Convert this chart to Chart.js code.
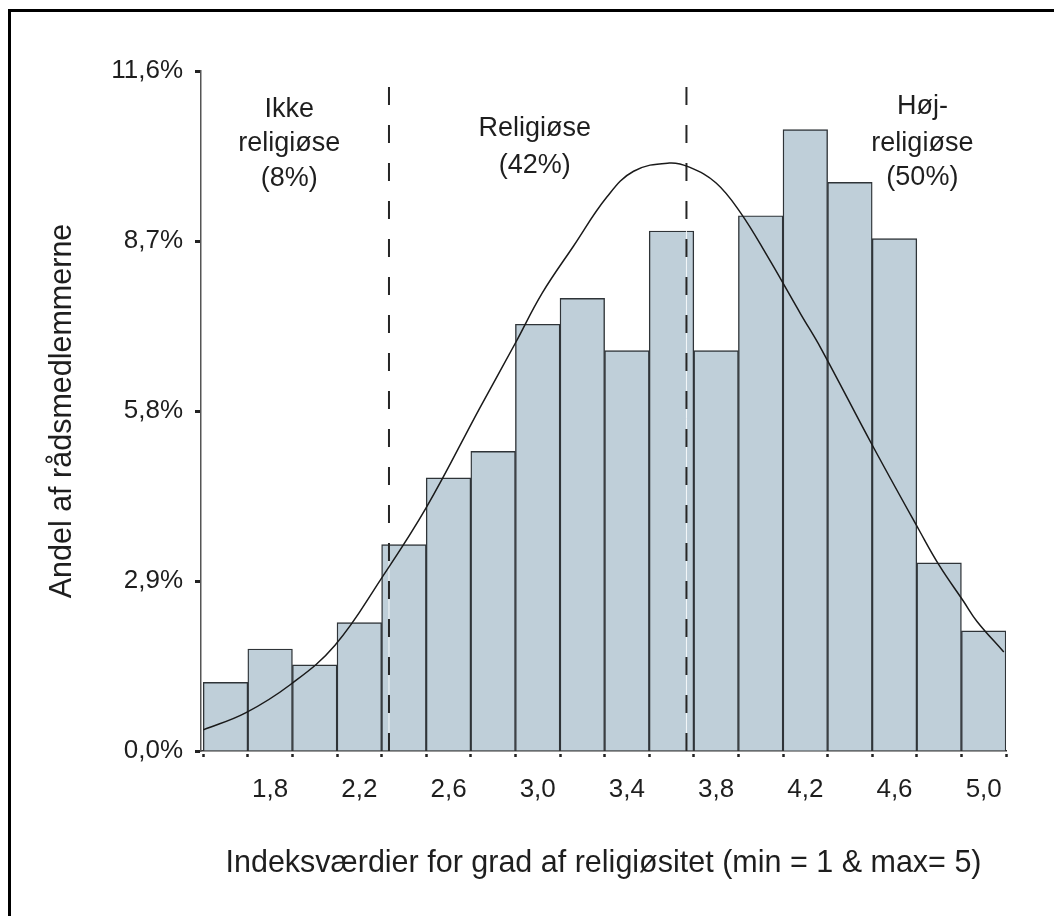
<!DOCTYPE html>
<html>
<head>
<meta charset="utf-8">
<script src="https://cdn.jsdelivr.net/npm/chart.js@4"></script>
<style>
  body { margin: 0; background: #fff; }
  #wrap { position: relative; width: 1054px; height: 916px; }
  #frame { position: absolute; left: 8px; top: 9px; right: -10px; bottom: -10px;
           border-left: 3px solid #000; border-top: 3px solid #000; pointer-events: none; }
</style>
</head>
<body>
<div id="wrap">
  <canvas id="graph"></canvas>
  <div id="frame"></div>
</div>
<script>
// histogram bins (bin centres, width 0.2) and share of council members in %
const binCenters = [1.6, 1.8, 2.0, 2.2, 2.4, 2.6, 2.8, 3.0, 3.2, 3.4, 3.6, 3.8, 4.0, 4.2, 4.4, 4.6, 4.8, 5.0];
const binShares  = [1.17, 1.74, 1.47, 2.19, 3.52, 4.66, 5.11, 7.28, 7.72, 6.83, 8.87, 6.83, 9.13, 10.60, 9.70, 8.74, 3.21, 2.05];

// fitted curve
const curveX = [1.50, 1.69, 1.89, 2.09, 2.30, 2.50, 2.74, 2.90, 3.02, 3.16, 3.31, 3.43,
                3.59, 3.68, 3.80, 3.91, 4.03, 4.18, 4.27, 4.50, 4.71, 4.80, 4.91, 4.97, 5.09];
const curveY = [0.36, 0.65, 1.13, 1.80, 2.95, 4.15, 5.85, 6.96, 7.81, 8.61, 9.45, 9.89,
                10.03, 9.96, 9.69, 9.18, 8.44, 7.45, 6.87, 5.22, 3.77, 3.17, 2.55, 2.21, 1.69];

// group cut-offs on the 1-5 index
const cutoffs = [2.333, 3.667];
const cutTop = 11.35;

const yTicks = [0, 2.9, 5.8, 8.7, 11.6];
const xLabelTicks = [1.8, 2.2, 2.6, 3.0, 3.4, 3.8, 4.2, 4.6, 5.0];

const groups = [
  { lines: ['Ikke', 'religiøse', '(8%)'], x: 1.886, y: [10.95, 10.36, 9.76] },
  { lines: ['Religiøse', '(42%)'], x: 2.987, y: [10.62, 9.98] },
  { lines: ['Høj-', 'religiøse', '(50%)'], x: 4.725, y: [10.99, 10.37, 9.78] }
];

const fmt = v => v.toFixed(1).replace('.', ',');

Chart.defaults.font.family = '"Liberation Sans", Arial, sans-serif';
Chart.defaults.color = '#1e1e1e';

const groupText = {
  id: 'groupText',
  afterDraw(chart) {
    const ctx = chart.ctx;
    const sx = chart.scales.x, sy = chart.scales.y;
    ctx.save();
    ctx.font = '27px "Liberation Sans", Arial, sans-serif';
    ctx.fillStyle = '#1e1e1e';
    ctx.textAlign = 'center';
    ctx.textBaseline = 'middle';
    groups.forEach(g => {
      g.lines.forEach((t, i) => {
        ctx.fillText(t, sx.getPixelForValue(g.x), sy.getPixelForValue(g.y[i]));
      });
    });
    ctx.restore();
  }
};

const datasets = [{
  type: 'bar',
  data: binCenters.map((c, i) => ({ x: c, y: binShares[i] })),
  backgroundColor: '#bfcfd9',
  borderColor: '#2f3438',
  borderWidth: 1.4,
  barPercentage: 1,
  categoryPercentage: 1,
  order: 5
}, {
  type: 'line',
  data: curveX.map((c, i) => ({ x: c, y: curveY[i] })),
  borderColor: '#1a1a1a',
  borderWidth: 1.5,
  pointRadius: 0,
  tension: 0.4,
  fill: false,
  order: 1
}];

cutoffs.forEach(c => {
  datasets.push({
    type: 'line',
    data: [{ x: c, y: 0 }, { x: c, y: cutTop }],
    borderColor: 'rgba(255,255,255,0.85)',
    borderWidth: 1,
    pointRadius: 0,
    order: 3
  });
  datasets.push({
    type: 'line',
    data: [{ x: c, y: 0 }, { x: c, y: cutTop }],
    borderColor: '#262626',
    borderWidth: 2,
    borderDash: [18, 20],
    pointRadius: 0,
    order: 2
  });
});

new Chart(document.getElementById('graph'), {
  type: 'bar',
  data: { datasets: datasets },
  plugins: [groupText],
  options: {
    responsive: true,
    maintainAspectRatio: false,
    animation: false,
    layout: { padding: { left: 0, top: 71, right: 48, bottom: 0 } },
    plugins: { legend: { display: false }, tooltip: { enabled: false } },
    scales: {
      x: {
        type: 'linear',
        min: 1.49,
        max: 5.1,
        offset: false,
        afterFit: s => { s.height = 165; },
        afterBuildTicks: s => { s.ticks = binCenters.map(v => ({ value: v })); },
        border: { display: true, color: '#333', width: 1.5 },
        grid: {
          drawOnChartArea: false,
          drawTicks: true,
          tickLength: 6,
          tickWidth: 2.5,
          tickColor: '#222',
          tickBorderDash: [0, 2.5, 3, 20]
        },
        ticks: {
          autoSkip: false,
          maxRotation: 0,
          padding: 17,
          font: { size: 26 },
          callback: v => xLabelTicks.some(t => Math.abs(t - v) < 1e-6) ? fmt(v) : ''
        },
        title: {
          display: true,
          text: 'Indeksværdier for grad af religiøsitet (min = 1 & max= 5)',
          font: { size: 30.5 },
          padding: { top: 0, bottom: 34 }
        }
      },
      y: {
        min: 0,
        max: 11.6,
        afterFit: s => { s.width = 201; },
        afterBuildTicks: s => { s.ticks = yTicks.map(v => ({ value: v })); },
        border: { display: true, color: '#555', width: 1.5 },
        grid: {
          drawOnChartArea: false,
          tickLength: 6,
          tickWidth: 3,
          tickColor: '#222'
        },
        ticks: {
          padding: 12,
          font: { size: 26 },
          callback: v => fmt(v) + '%'
        },
        title: {
          display: true,
          text: 'Andel af rådsmedlemmerne',
          font: { size: 30.5 },
          padding: { top: 44, bottom: 0 }
        }
      }
    }
  }
});
</script>
</body>
</html>
